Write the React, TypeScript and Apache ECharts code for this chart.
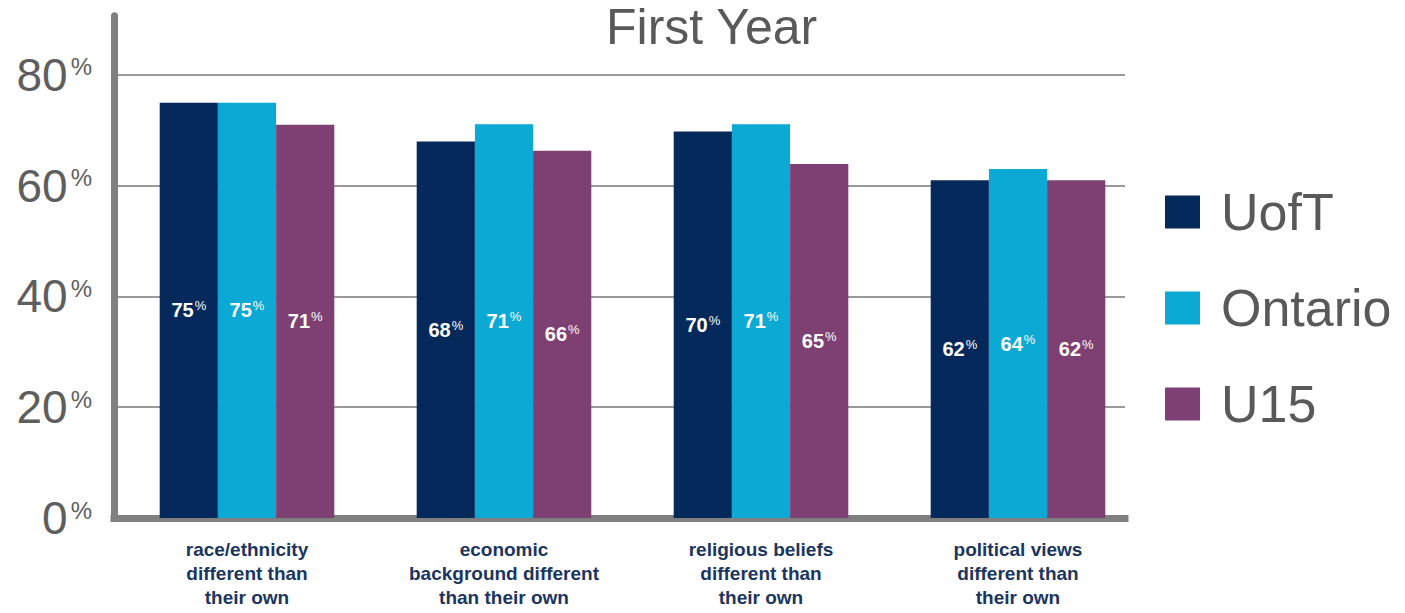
import React, { useEffect, useRef } from "react";
import * as echarts from "echarts";

const categories = [
  "race/ethnicity\ndifferent than\ntheir own",
  "economic\nbackground different\nthan their own",
  "religious beliefs\ndifferent than\ntheir own",
  "political views\ndifferent than\ntheir own",
];
const seriesNames = ["UofT", "Ontario", "U15"];
const uoftValues = [75, 68, 69.8, 61];
const ontarioValues = [75, 71.1, 71.1, 63];
const u15Values = [71, 66.3, 63.9, 61];
const uoftLabels = [75, 68, 70, 62];
const ontarioLabels = [75, 71, 71, 64];
const u15Labels = [71, 66, 65, 62];
const yTicks = [0, 20, 40, 60, 80];
const colors = ["#05295A", "#0BA9D3", "#7E3F73"];

const FONT = "'Liberation Sans', Arial, Helvetica, sans-serif";

export default function App() {
  const ref = useRef<HTMLDivElement>(null);
  useEffect(() => {
    if (!ref.current) return;
    const chart = echarts.init(ref.current, undefined, { renderer: "svg" });
    const yMax = 90.7;
    const gridTop = 15.7;
    const gridHeight = 518 - 15.7;
    const barLabel = (labels: number[]) => ({
      show: true,
      position: "inside",
      formatter: (p: any) => `{n|${labels[p.dataIndex]}}{p|%}`,
      rich: {
        n: { fontSize: 20, fontWeight: "bold", color: "#ffffff", fontFamily: FONT, lineHeight: 22 },
        p: { fontSize: 13, color: "#ffffff", fontFamily: FONT, verticalAlign: "top", lineHeight: 13, padding: [0, 0, 0, 1] },
      },
    });
    const values = [uoftValues, ontarioValues, u15Values];
    const labels = [uoftLabels, ontarioLabels, u15Labels];
    chart.setOption({
      animation: false,
      backgroundColor: "#ffffff",
      title: {
        text: "First Year",
        left: 601,
        top: -3,
        textStyle: { fontSize: 50, fontWeight: "normal", color: "#595959", fontFamily: FONT },
      },
      legend: {
        data: seriesNames,
        orient: "vertical",
        left: 1165,
        top: 186,
        padding: 0,
        icon: "rect",
        itemWidth: 35,
        itemHeight: 33,
        itemGap: 44,
        textStyle: { fontSize: 52, color: "#595959", fontFamily: FONT, lineHeight: 52, padding: [0, 0, 0, 16] },
      },
      grid: [
        { left: 114, top: gridTop, width: 1011, height: gridHeight },
        { left: 118.5, top: gridTop, width: 1028, height: gridHeight },
      ],
      xAxis: [
        {
          gridIndex: 0,
          type: "value",
          min: 0,
          max: 1,
          axisLine: { show: true, lineStyle: { color: "#808080", width: 7, cap: "square" } },
          axisTick: { show: false },
          axisLabel: { show: false },
          splitLine: { show: false },
        },
        {
          gridIndex: 1,
          type: "category",
          data: categories,
          axisLine: { show: false },
          axisTick: { show: false },
          axisLabel: {
            interval: 0,
            margin: 19,
            fontSize: 19,
            fontWeight: "bold",
            color: "#1B355F",
            lineHeight: 24,
            fontFamily: FONT,
          },
        },
      ],
      yAxis: [
        {
          gridIndex: 0,
          type: "value",
          min: 0,
          max: yMax,
          interval: 20,
          axisLine: { show: true, lineStyle: { color: "#808080", width: 7 } },
          axisTick: { show: false },
          axisLabel: {
            margin: 22,
            showMaxLabel: false,
            formatter: (v: number) => (yTicks.includes(v) ? `{n|${v}}{p|%}` : ""),
            rich: {
              n: { fontSize: 46, color: "#5E5E5E", fontFamily: FONT, lineHeight: 40 },
              p: { fontSize: 24, color: "#5E5E5E", fontFamily: FONT, verticalAlign: "top", lineHeight: 24, padding: [0, 0, 0, 3] },
            },
          },
          splitLine: { show: true, showMinLine: false, showMaxLine: false, lineStyle: { color: "#9A9A9A", width: 2 } },
        },
        {
          gridIndex: 1,
          type: "value",
          min: 0,
          max: yMax,
          show: false,
          splitLine: { show: false },
        },
      ],
      series: seriesNames.map((name, i) => ({
        name,
        type: "bar",
        xAxisIndex: 1,
        yAxisIndex: 1,
        data: values[i],
        barWidth: 58.2,
        barGap: "0%",
        itemStyle: { color: colors[i] },
        label: barLabel(labels[i]),
      })),
    });
    return () => chart.dispose();
  }, []);
  return (
    <div
      ref={ref}
      style={{ position: "fixed", left: 0, top: 0, width: 1405, height: 613 }}
    />
  );
}
